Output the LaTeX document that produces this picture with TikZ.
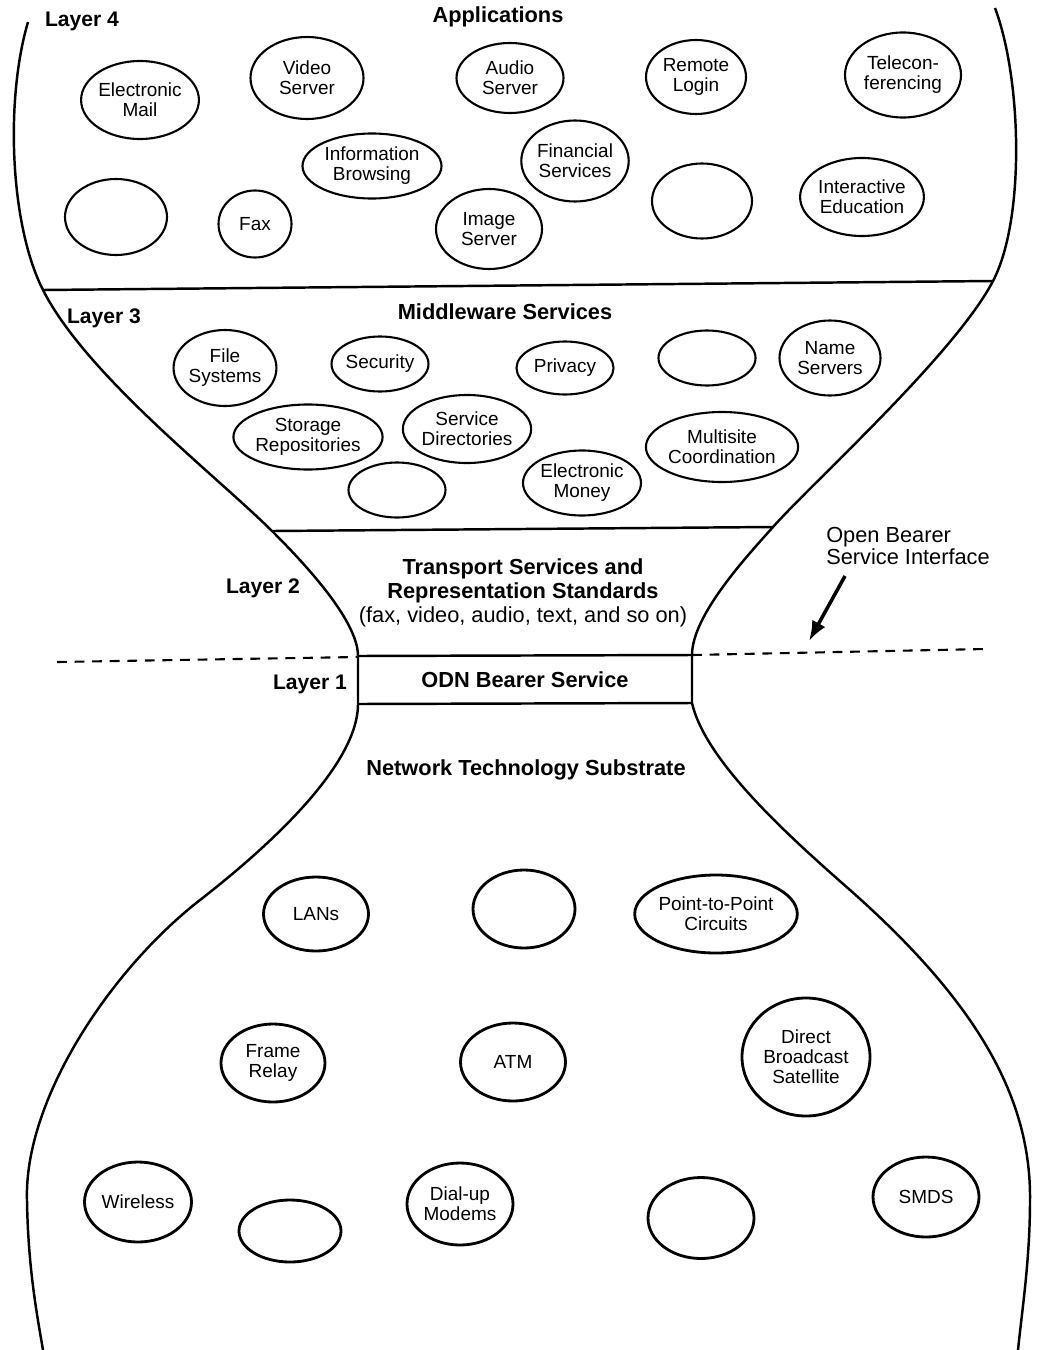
\documentclass[tikz,border=0pt]{standalone}
\usepackage{fontspec}
\setmainfont{Liberation Sans}
\usetikzlibrary{shapes.geometric,arrows.meta}

\begin{document}
\begin{tikzpicture}[
    x=0.1mm, y=-0.1mm,
    bubble/.style={ellipse, draw, line width=0.6pt, inner sep=0pt, align=center,
      font=\fontsize{5.4}{5.7}\selectfont},
    bsize/.style 2 args={minimum width=#1mm, minimum height=#2mm},
    head/.style={align=center, font=\bfseries\fontsize{6.2}{6.8}\selectfont},
    layerlbl/.style={font=\bfseries\fontsize{6}{7}\selectfont},
    outline/.style={line width=0.7pt},
    ]
    \useasboundingbox (0,0) rectangle (1037,1350);

    % hourglass outline
    \draw[outline] (28,22) .. controls (5,100) and (10,225) .. (43,290)
      .. controls (86,375) and (218,477) .. (273,532)
      .. controls (303,562) and (358,620) .. (358,656)
      -- (358,704)
      .. controls (358,770) and (254,858) .. (200,900)
      .. controls (110,970) and (24,1100) .. (27,1200)
      .. controls (28,1270) and (38,1320) .. (43,1350);
    \draw[outline] (995,8) .. controls (1022,80) and (1025,220) .. (993,281)
      .. controls (955,354) and (813,482) .. (773,527)
      .. controls (748,555) and (692,615) .. (692,655)
      -- (692,703)
      .. controls (705,760) and (785,833) .. (850,890)
      .. controls (980,1005) and (1031,1100) .. (1030,1200)
      .. controls (1030,1260) and (1022,1310) .. (1018,1350);

    % layer borders
    \draw[outline] (43,290) -- (993,281);
    \draw[outline] (273,531) -- (773,527);
    \draw[outline] (358,656) -- (692,655);
    \draw[outline] (358,704) -- (692,703);
    \draw[line width=0.6pt, dash pattern=on 2.8pt off 2.2pt] (57,662) -- (358,657);
    \draw[line width=0.6pt, dash pattern=on 2.8pt off 2.2pt] (692,655) -- (985,649);

    % layer 4
    \node[layerlbl] (l4) at (82,21) {Layer 4};
    \node[head] (apps) at (498,17) {Applications};
    \node[bubble, bsize={10.6}{7.8}] (email) at (140,100) {Electronic\\Mail};
    \node[bubble, bsize={11.3}{8.2}] (video) at (307,78) {Video\\Server};
    \node[bubble, bsize={10.7}{7.0}] (audio) at (510,78) {Audio\\Server};
    \node[bubble, bsize={10.0}{7.4}] (remote) at (696,77) {Remote\\Login};
    \node[bubble, bsize={11.6}{8.5}] (tele) at (903,75) {Telecon-\\ferencing};
    \node[bubble, bsize={13.9}{6.5}] (browse) at (372,166) {Information\\Browsing};
    \node[bubble, bsize={10.6}{8.1}] (finance) at (575,161) {Financial\\Services};
    \node[bubble, bsize={10.2}{7.6}] (blank4a) at (116,217) {};
    \node[bubble, bsize={7.3}{6.7}] (fax) at (255,224) {Fax};
    \node[bubble, bsize={10.6}{8.0}] (image) at (489,229) {Image\\Server};
    \node[bubble, bsize={10.0}{7.5}] (blank4b) at (702,201) {};
    \node[bubble, bsize={11.6}{7.8}] (educ) at (862,197) {Interactive\\Education};

    % layer 3
    \node[layerlbl] (l3) at (104,318) {Layer 3};
    \node[head] (middle) at (505,312) {Middleware Services};
    \node[bubble, bsize={9.8}{7.6}] (files) at (225,368) {File\\Systems};
    \node[bubble, bsize={9.5}{5.5}] (secur) at (380,364) {Security};
    \node[bubble, bsize={9.7}{5.3}] (privacy) at (565,368) {Privacy};
    \node[bubble, bsize={9.7}{5.5}] (blank3a) at (707,358) {};
    \node[bubble, bsize={10.1}{7.5}] (names) at (830,358) {Name\\Servers};
    \node[bubble, bsize={13.7}{6.5}] (storage) at (308,437) {Storage\\Repositories};
    \node[bubble, bsize={12.7}{6.8}] (direct) at (467,429) {Service\\Directories};
    \node[bubble, bsize={13.7}{7.0}] (multi) at (722,447) {Multisite\\Coordination};
    \node[bubble, bsize={9.7}{5.5}] (blank3b) at (397,490) {};
    \node[bubble, bsize={11.8}{6.5}] (money) at (582,483) {Electronic\\Money};

    % layers 2 and 1
    \node[layerlbl] (l2) at (263,588) {Layer 2};
    \node[align=center, font=\fontsize{6.2}{6.8}\selectfont] (trans) at (523,593)
      {\textbf{Transport Services and}\\\textbf{Representation Standards}\\(fax, video, audio, text, and so on)};
    \node[layerlbl] (l1) at (310,684) {Layer 1};
    \node[head] (odn) at (525,680) {ODN Bearer Service};
    \node[align=left, font=\fontsize{6.2}{6.5}\selectfont] (obsi) at (908,546) {Open Bearer\\Service Interface};
    \coordinate (obsitail) at (845,576);
    \coordinate (obsihead) at (809,641);
    \draw[line width=1pt, -{Latex[length=2mm, width=1.5mm]}] (obsitail) -- (obsihead);

    % network technology substrate
    \node[head] (substrate) at (526,770) {Network Technology Substrate};
    \node[bubble, line width=0.8pt, bsize={10.5}{7.4}] (lans) at (316,914) {LANs};
    \node[bubble, line width=0.8pt, bsize={10.2}{7.8}] (blank1a) at (524,909) {};
    \node[bubble, line width=0.8pt, bsize={15.5}{7.8}] (p2p) at (716,914) {Point-to-Point\\Circuits};
    \node[bubble, line width=0.8pt, bsize={10.4}{7.8}] (frame) at (273,1063) {Frame\\Relay};
    \node[bubble, line width=0.8pt, bsize={10.5}{7.8}] (atm) at (513,1062) {ATM};
    \node[bubble, line width=0.8pt, bsize={12.8}{11.8}] (dbs) at (806,1057) {Direct\\Broadcast\\Satellite};
    \node[bubble, line width=0.8pt, bsize={10.7}{8.0}] (wireless) at (138,1202) {Wireless};
    \node[bubble, line width=0.8pt, bsize={10.2}{6.2}] (blank1b) at (290,1231) {};
    \node[bubble, line width=0.8pt, bsize={10.6}{8.2}] (dialup) at (460,1204) {Dial-up\\Modems};
    \node[bubble, line width=0.8pt, bsize={10.6}{8.1}] (blank1c) at (701,1218) {};
    \node[bubble, line width=0.8pt, bsize={10.6}{8.0}] (smds) at (926,1197) {SMDS};

  \end{tikzpicture}
\end{document}
